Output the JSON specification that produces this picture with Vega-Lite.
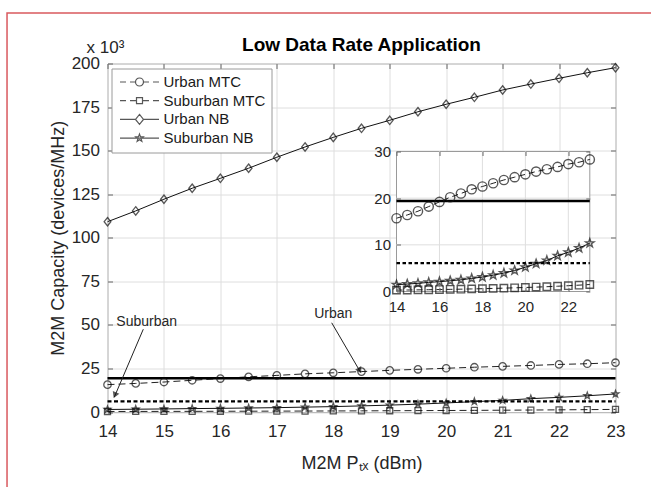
{
  "$schema": "https://vega.github.io/schema/vega-lite/v6.json",
  "width": 508,
  "height": 348.5,
  "autosize": {"type": "none"},
  "padding": {"left": 107.5, "top": 63.5, "right": 35.5, "bottom": 75},
  "background": "white",
  "title": {"text": "Low Data Rate Application", "anchor": "middle", "frame": "group", "fontSize": 19, "fontWeight": "bold", "color": "#000000", "font": "Liberation Sans", "baseline": "alphabetic", "offset": -58},
  "config": {
    "font": "Liberation Sans",
    "view": {"stroke": "#9a9a9a", "strokeWidth": 1},
    "axis": {"labelFont": "Liberation Sans", "titleFont": "Liberation Sans", "labelColor": "#262626", "titleColor": "#262626", "domain": false, "gridColor": "#dedede", "gridWidth": 1, "tickColor": "#666666", "tickWidth": 1, "titleFontWeight": "normal", "labelFlush": false, "labelOverlap": false, "labelBound": false}
  },
  "datasets": {
    "curves": [
      {"s": "Urban MTC", "x": 14, "y": 15.7}, {"s": "Urban MTC", "x": 14.5, "y": 16.4}, {"s": "Urban MTC", "x": 15, "y": 17.2}, {"s": "Urban MTC", "x": 15.5, "y": 18.2}, {"s": "Urban MTC", "x": 16, "y": 19.2}, {"s": "Urban MTC", "x": 16.5, "y": 20.2}, {"s": "Urban MTC", "x": 17, "y": 21.0}, {"s": "Urban MTC", "x": 17.5, "y": 21.9}, {"s": "Urban MTC", "x": 18, "y": 22.5}, {"s": "Urban MTC", "x": 18.5, "y": 23.2}, {"s": "Urban MTC", "x": 19, "y": 23.9}, {"s": "Urban MTC", "x": 19.5, "y": 24.5}, {"s": "Urban MTC", "x": 20, "y": 25.1}, {"s": "Urban MTC", "x": 20.5, "y": 25.7}, {"s": "Urban MTC", "x": 21, "y": 26.2}, {"s": "Urban MTC", "x": 21.5, "y": 26.7}, {"s": "Urban MTC", "x": 22, "y": 27.3}, {"s": "Urban MTC", "x": 22.5, "y": 27.7}, {"s": "Urban MTC", "x": 23, "y": 28.3},
      {"s": "Suburban MTC", "x": 14, "y": 0.3}, {"s": "Suburban MTC", "x": 14.5, "y": 0.32}, {"s": "Suburban MTC", "x": 15, "y": 0.35}, {"s": "Suburban MTC", "x": 15.5, "y": 0.38}, {"s": "Suburban MTC", "x": 16, "y": 0.42}, {"s": "Suburban MTC", "x": 16.5, "y": 0.46}, {"s": "Suburban MTC", "x": 17, "y": 0.5}, {"s": "Suburban MTC", "x": 17.5, "y": 0.55}, {"s": "Suburban MTC", "x": 18, "y": 0.6}, {"s": "Suburban MTC", "x": 18.5, "y": 0.66}, {"s": "Suburban MTC", "x": 19, "y": 0.72}, {"s": "Suburban MTC", "x": 19.5, "y": 0.79}, {"s": "Suburban MTC", "x": 20, "y": 0.86}, {"s": "Suburban MTC", "x": 20.5, "y": 0.94}, {"s": "Suburban MTC", "x": 21, "y": 1.03}, {"s": "Suburban MTC", "x": 21.5, "y": 1.13}, {"s": "Suburban MTC", "x": 22, "y": 1.24}, {"s": "Suburban MTC", "x": 22.5, "y": 1.36}, {"s": "Suburban MTC", "x": 23, "y": 1.5},
      {"s": "Urban NB", "x": 14, "y": 109.2}, {"s": "Urban NB", "x": 14.5, "y": 115.4}, {"s": "Urban NB", "x": 15, "y": 122.1}, {"s": "Urban NB", "x": 15.5, "y": 128.4}, {"s": "Urban NB", "x": 16, "y": 134.1}, {"s": "Urban NB", "x": 16.5, "y": 139.9}, {"s": "Urban NB", "x": 17, "y": 146.2}, {"s": "Urban NB", "x": 17.5, "y": 152.1}, {"s": "Urban NB", "x": 18, "y": 157.6}, {"s": "Urban NB", "x": 18.5, "y": 162.8}, {"s": "Urban NB", "x": 19, "y": 167.4}, {"s": "Urban NB", "x": 19.5, "y": 172.3}, {"s": "Urban NB", "x": 20, "y": 176.6}, {"s": "Urban NB", "x": 20.5, "y": 180.6}, {"s": "Urban NB", "x": 21, "y": 184.8}, {"s": "Urban NB", "x": 21.5, "y": 188.2}, {"s": "Urban NB", "x": 22, "y": 191.5}, {"s": "Urban NB", "x": 22.5, "y": 194.7}, {"s": "Urban NB", "x": 23, "y": 197.6},
      {"s": "Suburban NB", "x": 14, "y": 1.45}, {"s": "Suburban NB", "x": 14.5, "y": 1.6}, {"s": "Suburban NB", "x": 15, "y": 1.75}, {"s": "Suburban NB", "x": 15.5, "y": 1.95}, {"s": "Suburban NB", "x": 16, "y": 2.1}, {"s": "Suburban NB", "x": 16.5, "y": 2.3}, {"s": "Suburban NB", "x": 17, "y": 2.5}, {"s": "Suburban NB", "x": 17.5, "y": 2.8}, {"s": "Suburban NB", "x": 18, "y": 3.1}, {"s": "Suburban NB", "x": 18.5, "y": 3.5}, {"s": "Suburban NB", "x": 19, "y": 3.95}, {"s": "Suburban NB", "x": 19.5, "y": 4.5}, {"s": "Suburban NB", "x": 20, "y": 5.2}, {"s": "Suburban NB", "x": 20.5, "y": 5.95}, {"s": "Suburban NB", "x": 21, "y": 6.65}, {"s": "Suburban NB", "x": 21.5, "y": 7.65}, {"s": "Suburban NB", "x": 22, "y": 8.4}, {"s": "Suburban NB", "x": 22.5, "y": 9.3}, {"s": "Suburban NB", "x": 23, "y": 10.35}
    ],
    "thresh": [
      {"s": "Urban", "x": 14, "y": 19.4}, {"s": "Urban", "x": 23, "y": 19.4},
      {"s": "Suburban", "x": 14, "y": 6.1}, {"s": "Suburban", "x": 23, "y": 6.1}
    ],
    "arrows": [
      {"a": "Suburban", "x": 14.634, "y": 47.5, "x2": 14.12, "y2": 8.5},
      {"a": "Urban", "x": 17.972, "y": 51.2, "x2": 18.48, "y2": 23.0}
    ],
    "heads": [
      {"a": "Suburban", "x": 14.131, "y": 9.6},
      {"a": "Urban", "x": 18.468, "y": 23.8}
    ],
    "notes": [
      {"t": "Suburban", "x": 14.695, "y": 51.8},
      {"t": "Urban", "x": 18.0, "y": 56.2}
    ]
  },
  "layer": [
    {
      "resolve": {"axis": {"x": "independent", "y": "independent"}},
      "layer": [
        {
          "data": {"values": [{}]},
          "mark": {"type": "rect", "fillOpacity": 0, "stroke": "#d9595e", "strokeWidth": 1.5},
          "encoding": {
            "x": {"datum": 12.22, "type": "quantitative", "scale": {"domain": [14, 23], "nice": false, "zero": false}, "axis": null},
            "x2": {"datum": 25},
            "y": {"datum": 229, "type": "quantitative", "scale": {"domain": [0, 200], "nice": false, "zero": false}, "axis": null},
            "y2": {"datum": -60}
          }
        },
        {
          "data": {"name": "curves"},
          "transform": [{"filter": {"field": "s", "oneOf": ["Urban NB", "Suburban NB"]}}],
          "mark": {"type": "line", "color": "#111111", "strokeWidth": 1},
          "encoding": {
            "x": {"field": "x", "type": "quantitative", "scale": {"domain": [14, 23], "nice": false, "zero": false},
              "axis": {"orient": "bottom", "values": [14, 15, 16, 17, 18, 19, 20, 21, 22, 23], "grid": true, "ticks": false, "labelFontSize": 17, "labelPadding": 11, "title": "M2M Pₜₓ (dBm)", "titleFontSize": 18, "titlePadding": 15}},
            "y": {"field": "y", "type": "quantitative", "scale": {"domain": [0, 200], "nice": false, "zero": false},
              "axis": {"orient": "left", "values": [0, 25, 50, 75, 100, 125, 150, 175, 200], "grid": true, "ticks": false, "labelFontSize": 17, "labelPadding": 8, "title": "M2M Capacity (devices/MHz)", "titleFontSize": 18, "titlePadding": 4}},
            "detail": {"field": "s"}
          }
        },
        {
          "data": {"name": "curves"},
          "transform": [{"filter": {"field": "s", "oneOf": ["Urban MTC", "Suburban MTC"]}}],
          "mark": {"type": "line", "color": "#222222", "strokeWidth": 1, "strokeDash": [7, 4]},
          "encoding": {
            "x": {"field": "x", "type": "quantitative", "scale": {"domain": [14, 23], "nice": false, "zero": false},
              "axis": {"orient": "top", "values": [14, 15, 16, 17, 18, 19, 20, 21, 22, 23], "grid": false, "labels": false, "tickSize": -5, "title": "x 10³", "titleAngle": 0, "titleX": -2.5, "titleY": -11, "titleAlign": "center", "titleBaseline": "alphabetic", "titleFontSize": 17}},
            "y": {"field": "y", "type": "quantitative", "scale": {"domain": [0, 200], "nice": false, "zero": false},
              "axis": {"orient": "right", "values": [0, 25, 50, 75, 100, 125, 150, 175, 200], "grid": false, "labels": false, "tickSize": -5, "title": null}},
            "detail": {"field": "s"}
          }
        },
        {
          "data": {"name": "thresh"},
          "transform": [{"filter": {"field": "s", "equal": "Urban"}}],
          "mark": {"type": "line", "color": "#000000", "strokeWidth": 2.6},
          "encoding": {
            "x": {"field": "x", "type": "quantitative", "scale": {"domain": [14, 23], "nice": false, "zero": false},
              "axis": {"orient": "bottom", "values": [14, 15, 16, 17, 18, 19, 20, 21, 22, 23], "grid": false, "labels": false, "tickSize": -5, "title": null}},
            "y": {"field": "y", "type": "quantitative", "scale": {"domain": [0, 200], "nice": false, "zero": false},
              "axis": {"orient": "left", "values": [0, 25, 50, 75, 100, 125, 150, 175, 200], "grid": false, "labels": false, "tickSize": -5, "title": null}}
          }
        },
        {
          "data": {"name": "thresh"},
          "transform": [{"filter": {"field": "s", "equal": "Suburban"}}],
          "mark": {"type": "line", "color": "#000000", "strokeWidth": 2.4, "strokeDash": [4, 2.5]},
          "encoding": {
            "x": {"field": "x", "type": "quantitative", "axis": null},
            "y": {"field": "y", "type": "quantitative", "axis": null}
          }
        },
        {
          "data": {"name": "curves"},
          "transform": [{"filter": {"field": "s", "equal": "Urban MTC"}}],
          "mark": {"type": "point", "shape": "circle", "filled": false, "color": "#111111", "size": 55, "strokeWidth": 1.3},
          "encoding": {
            "x": {"field": "x", "type": "quantitative", "axis": null},
            "y": {"field": "y", "type": "quantitative", "axis": null}
          }
        },
        {
          "data": {"name": "curves"},
          "transform": [{"filter": {"field": "s", "equal": "Suburban MTC"}}],
          "mark": {"type": "point", "shape": "square", "filled": false, "color": "#111111", "size": 36, "strokeWidth": 1.3},
          "encoding": {
            "x": {"field": "x", "type": "quantitative", "axis": null},
            "y": {"field": "y", "type": "quantitative", "axis": null}
          }
        },
        {
          "data": {"name": "curves"},
          "transform": [{"filter": {"field": "s", "equal": "Urban NB"}}],
          "mark": {"type": "point", "shape": "M0,-1.2L0.95,0L0,1.2L-0.95,0Z", "filled": false, "color": "#111111", "size": 50, "strokeWidth": 1.3},
          "encoding": {
            "x": {"field": "x", "type": "quantitative", "axis": null},
            "y": {"field": "y", "type": "quantitative", "axis": null}
          }
        },
        {
          "data": {"name": "curves"},
          "transform": [{"filter": {"field": "s", "equal": "Suburban NB"}}],
          "mark": {"type": "point", "shape": "M0,-1L0.235,-0.324L0.951,-0.309L0.38,0.124L0.588,0.809L0,0.4L-0.588,0.809L-0.38,0.124L-0.951,-0.309L-0.235,-0.324Z", "filled": false, "color": "#111111", "size": 50, "strokeWidth": 1.3},
          "encoding": {
            "x": {"field": "x", "type": "quantitative", "axis": null},
            "y": {"field": "y", "type": "quantitative", "axis": null}
          }
        },
        {
          "data": {"name": "arrows"},
          "mark": {"type": "rule", "color": "#222222", "strokeWidth": 1},
          "encoding": {
            "x": {"field": "x", "type": "quantitative", "axis": null},
            "y": {"field": "y", "type": "quantitative", "axis": null},
            "x2": {"field": "x2"},
            "y2": {"field": "y2"}
          }
        },
        {
          "data": {"name": "heads"},
          "transform": [{"filter": {"field": "a", "equal": "Suburban"}}],
          "mark": {"type": "point", "shape": "triangle-down", "filled": true, "color": "#111111", "size": 50, "angle": 23},
          "encoding": {
            "x": {"field": "x", "type": "quantitative", "axis": null},
            "y": {"field": "y", "type": "quantitative", "axis": null}
          }
        },
        {
          "data": {"name": "heads"},
          "transform": [{"filter": {"field": "a", "equal": "Urban"}}],
          "mark": {"type": "point", "shape": "triangle-down", "filled": true, "color": "#111111", "size": 50, "angle": 330},
          "encoding": {
            "x": {"field": "x", "type": "quantitative", "axis": null},
            "y": {"field": "y", "type": "quantitative", "axis": null}
          }
        },
        {
          "data": {"name": "notes"},
          "mark": {"type": "text", "font": "Liberation Sans", "fontSize": 14, "color": "#262626", "align": "center", "baseline": "middle"},
          "encoding": {
            "x": {"field": "x", "type": "quantitative", "axis": null},
            "y": {"field": "y", "type": "quantitative", "axis": null},
            "text": {"field": "t"}
          }
        },
        {
          "data": {"name": "curves"},
          "transform": [{"filter": "false"}],
          "mark": {"type": "point", "filled": false, "color": "#111111", "size": 100, "strokeWidth": 1.2},
          "encoding": {
            "shape": {"field": "s", "type": "nominal",
              "scale": {"domain": ["Urban MTC", "Suburban MTC", "Urban NB", "Suburban NB"],
                "range": [
                  "M-1,0H0.2M1,0H2.1M3.7,0H4.8M5.6,0H6.8M3.7,0A0.8,0.8,0,1,1,2.1,0A0.8,0.8,0,1,1,3.7,0Z",
                  "M-1,0H0.2M1,0H2.3M3.5,0H4.8M5.6,0H6.8M2.3,-0.6H3.5V0.6H2.3Z",
                  "M-1,0H2.1M3.7,0H6.8M2.9,-1L3.7,0L2.9,1L2.1,0Z",
                  "M-1,0H6.8M2.9,-0.8L3.094,-0.267L3.661,-0.247L3.214,0.102L3.37,0.647L2.9,0.33L2.43,0.647L2.586,0.102L2.139,-0.247L2.706,-0.267Z"
                ]},
              "legend": {"orient": "none", "legendX": 4, "legendY": 5, "title": null, "labelFont": "Liberation Sans", "labelFontSize": 15, "labelColor": "#1a1a1a", "strokeColor": "#9a9a9a", "fillColor": "white", "padding": 6, "symbolSize": 100, "symbolStrokeWidth": 1.2, "symbolStrokeColor": "#111111", "symbolFillColor": "transparent", "labelOffset": 31, "rowPadding": 2.7}
            }
          }
        }
      ]
    },
    {
      "resolve": {"axis": {"x": "independent", "y": "independent"}},
      "layer": [
        {
          "data": {"values": [{}]},
          "mark": {"type": "rect", "fill": "white", "stroke": "#9a9a9a", "strokeWidth": 1},
          "encoding": {
            "x": {"datum": 14, "type": "quantitative", "scale": {"domain": [14, 23], "range": [289, 482.3], "nice": false, "zero": false}, "axis": null},
            "x2": {"datum": 23},
            "y": {"datum": 0, "type": "quantitative", "scale": {"domain": [0, 30], "range": [228, 88], "nice": false, "zero": false}, "axis": null},
            "y2": {"datum": 30}
          }
        },
        {
          "data": {"values": [{"g": 16}, {"g": 18}, {"g": 20}, {"g": 22}]},
          "mark": {"type": "rule", "color": "#dedede", "strokeWidth": 1},
          "encoding": {
            "x": {"field": "g", "type": "quantitative", "axis": null},
            "y": {"datum": 0, "type": "quantitative", "axis": null},
            "y2": {"datum": 30}
          }
        },
        {
          "data": {"values": [{"g": 10}, {"g": 20}]},
          "mark": {"type": "rule", "color": "#dedede", "strokeWidth": 1},
          "encoding": {
            "y": {"field": "g", "type": "quantitative", "axis": null},
            "x": {"datum": 14, "type": "quantitative", "axis": null},
            "x2": {"datum": 23}
          }
        },
        {
          "data": {"name": "thresh"},
          "transform": [{"filter": {"field": "s", "equal": "Urban"}}],
          "mark": {"type": "line", "color": "#000000", "strokeWidth": 2.6},
          "encoding": {
            "x": {"field": "x", "type": "quantitative",
              "axis": {"orient": "bottom", "offset": -120.5, "values": [14, 16, 18, 20, 22], "grid": false, "ticks": false, "labelFontSize": 15, "labelPadding": 8, "title": null, "zindex": 1}},
            "y": {"field": "y", "type": "quantitative",
              "axis": {"orient": "left", "offset": -289, "values": [0, 10, 20, 30], "grid": false, "ticks": false, "labelFontSize": 15, "labelPadding": 6, "title": null, "zindex": 1}}
          }
        },
        {
          "data": {"name": "thresh"},
          "transform": [{"filter": {"field": "s", "equal": "Suburban"}}],
          "mark": {"type": "line", "color": "#000000", "strokeWidth": 2.2, "strokeDash": [3.5, 2.5]},
          "encoding": {
            "x": {"field": "x", "type": "quantitative",
              "axis": {"orient": "bottom", "offset": -120.5, "values": [14, 16, 18, 20, 22], "grid": false, "labels": false, "tickSize": -4, "title": null, "zindex": 1}},
            "y": {"field": "y", "type": "quantitative",
              "axis": {"orient": "left", "offset": -289, "values": [0, 10, 20, 30], "grid": false, "labels": false, "tickSize": -4, "title": null, "zindex": 1}}
          }
        },
        {
          "data": {"name": "curves"},
          "transform": [{"filter": {"field": "s", "oneOf": ["Urban MTC", "Suburban MTC"]}}],
          "mark": {"type": "line", "color": "#222222", "strokeWidth": 1, "strokeDash": [6, 4]},
          "encoding": {
            "x": {"field": "x", "type": "quantitative",
              "axis": {"orient": "top", "offset": -88, "values": [14, 16, 18, 20, 22], "grid": false, "labels": false, "tickSize": -4, "title": null, "zindex": 1}},
            "y": {"field": "y", "type": "quantitative",
              "axis": {"orient": "right", "offset": -25.7, "values": [0, 10, 20, 30], "grid": false, "labels": false, "tickSize": -4, "title": null, "zindex": 1}},
            "detail": {"field": "s"}
          }
        },
        {
          "data": {"name": "curves"},
          "transform": [{"filter": {"field": "s", "equal": "Suburban NB"}}],
          "mark": {"type": "line", "color": "#111111", "strokeWidth": 1},
          "encoding": {
            "x": {"field": "x", "type": "quantitative", "axis": null},
            "y": {"field": "y", "type": "quantitative", "axis": null}
          }
        },
        {
          "data": {"name": "curves"},
          "transform": [{"filter": {"field": "s", "equal": "Urban MTC"}}],
          "mark": {"type": "point", "shape": "circle", "filled": false, "color": "#111111", "size": 85, "strokeWidth": 1.4},
          "encoding": {
            "x": {"field": "x", "type": "quantitative", "axis": null},
            "y": {"field": "y", "type": "quantitative", "axis": null}
          }
        },
        {
          "data": {"name": "curves"},
          "transform": [{"filter": {"field": "s", "equal": "Suburban MTC"}}],
          "mark": {"type": "point", "shape": "square", "filled": false, "color": "#111111", "size": 55, "strokeWidth": 1.4},
          "encoding": {
            "x": {"field": "x", "type": "quantitative", "axis": null},
            "y": {"field": "y", "type": "quantitative", "axis": null}
          }
        },
        {
          "data": {"name": "curves"},
          "transform": [{"filter": {"field": "s", "equal": "Suburban NB"}}],
          "mark": {"type": "point", "shape": "M0,-1L0.235,-0.324L0.951,-0.309L0.38,0.124L0.588,0.809L0,0.4L-0.588,0.809L-0.38,0.124L-0.951,-0.309L-0.235,-0.324Z", "filled": false, "color": "#111111", "size": 80, "strokeWidth": 1.4},
          "encoding": {
            "x": {"field": "x", "type": "quantitative", "axis": null},
            "y": {"field": "y", "type": "quantitative", "axis": null}
          }
        }
      ]
    }
  ],
  "resolve": {"scale": {"x": "independent", "y": "independent"}, "axis": {"x": "independent", "y": "independent"}}
}
